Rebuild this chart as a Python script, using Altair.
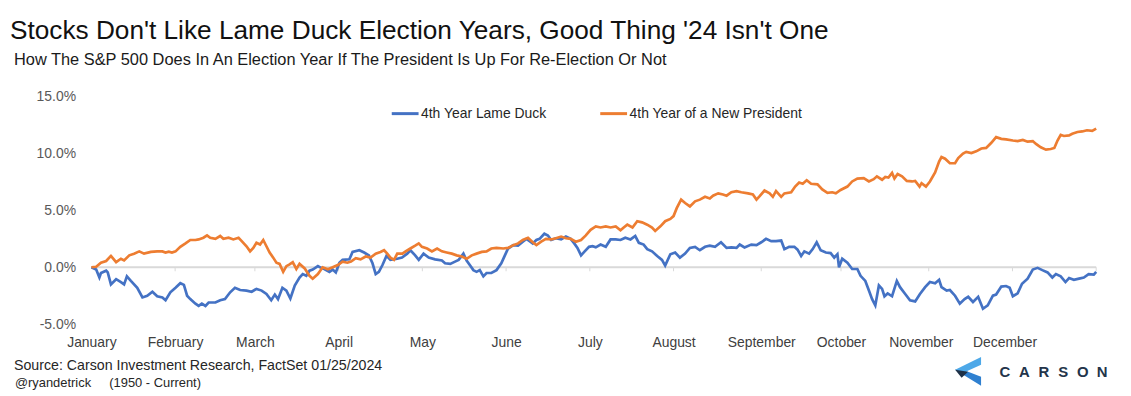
import altair as alt
import pandas as pd

# ---------------- data ----------------
series_names = ["4th Year Lame Duck", "4th Year of a New President"]
series_colors = ["#4472C4", "#ED7D31"]

blue_days = [0, 1.2, 2.0, 2.4, 3.7, 4.1, 4.9, 6.2, 7.4, 8.2, 8.9, 9.9, 11.5, 12.8, 14.0, 15.3, 16.5, 17.8, 18.6, 19.8,
             21.1, 22.3, 23.2, 24.0, 24.8, 26.1, 26.9, 27.7, 28.6, 29.4, 31.1, 32.3, 33.5, 34.8, 36.0, 37.3, 38.9, 40.2,
             41.4, 42.7, 43.9, 45.1, 46.0, 46.8, 47.9, 48.9, 49.9, 51.0, 52.2, 53.0, 53.9, 54.7, 55.5, 56.8, 57.6, 58.4,
             59.7, 60.5, 61.3, 62.2, 63.0, 64.7, 65.5, 67.2, 68.4, 69.6, 70.5, 71.3, 72.1, 73.0, 74.0, 75.0, 76.7, 77.9,
             79.2, 80.0, 81.2, 82.1, 83.3, 84.6, 86.2, 87.9, 88.7, 90.0, 91.2, 92.1, 93.3, 94.1, 94.9, 95.8, 96.6, 97.4,
             98.3, 99.1, 100.3, 101.6, 102.8, 103.7, 104.5, 105.8, 107.0, 108.2, 109.1, 109.9, 110.7, 111.6, 112.4,
             113.6, 114.5, 115.3, 116.5, 117.8, 119.0, 120.2, 121.1, 121.9, 122.8, 123.6, 124.8, 125.7, 126.5, 127.7,
             129.0, 130.2, 131.5, 132.7, 133.9, 135.2, 136.4, 137.3, 138.5, 139.4, 140.6, 141.9, 143.1, 143.9, 145.2,
             146.4, 147.6, 148.9, 150.1, 151.4, 152.6, 153.9, 155.1, 156.4, 157.9, 159.3, 160.5, 161.8, 162.6, 163.8,
             165.5, 166.8, 168.0, 169.2, 170.5, 171.7, 173.0, 173.8, 175.0, 176.3, 177.1, 178.0, 178.8, 180.0, 180.9,
             181.9, 182.9, 184.2, 185.4, 186.3, 187.1, 187.5, 188.3, 189.6, 190.8, 192.1, 192.9, 194.1, 195.0, 195.8,
             196.6, 197.5, 198.3, 198.9, 199.7, 200.8, 202.0, 202.8, 204.1, 205.3, 206.6, 207.8, 209.1, 210.3, 211.6,
             212.6, 213.2, 214.5, 215.3, 216.6, 217.8, 219.0, 219.9, 221.1, 222.4, 223.6, 224.8, 226.1, 226.9, 228.2,
             229.4, 230.3, 231.1, 232.3, 233.4, 234.8, 236.1, 237.3, 238.5, 239.8, 241.0, 241.9, 243.1, 244.3, 245.2,
             246.4, 247.7, 248.9, 250.1, 251.4, 252.0]
blue_vals = [0.0, -0.2, -0.9, -0.5, -0.3, -0.45, -1.5, -1.05, -1.3, -1.5, -0.8, -1.2, -1.8, -2.65, -2.5, -2.15, -2.55,
             -2.65, -2.9, -2.2, -1.8, -1.4, -1.55, -2.5, -2.8, -3.2, -3.4, -3.2, -3.4, -3.1, -3.1, -2.9, -2.8, -2.2,
             -1.8, -2.0, -2.05, -2.15, -1.9, -2.05, -2.35, -2.9, -2.4, -2.8, -1.8, -2.05, -2.75, -1.6, -0.9, -0.6,
             -0.75, -0.3, -0.2, 0.1, -0.05, -0.15, -0.4, -0.2, -0.45, 0.4, 0.65, 0.7, 1.35, 1.5, 1.3, 1.05, 0.35, -0.6,
             -0.4, 0.2, 1.0, 0.65, 0.75, 0.85, 1.2, 1.5, 1.05, 0.65, 1.2, 0.85, 0.7, 0.6, 0.35, 0.3, 0.5, 0.65, 1.2,
             0.6, 0.2, -0.25, -0.4, -0.25, -0.8, -0.5, -0.5, -0.25, 0.35, 1.05, 1.65, 1.95, 1.9, 2.25, 2.5, 2.3, 2.1,
             2.4, 2.5, 2.95, 2.8, 2.4, 2.55, 2.45, 2.7, 2.5, 2.1, 1.7, 1.05, 1.35, 1.8, 1.85, 1.75, 2.0, 1.8, 2.45,
             2.45, 2.4, 2.6, 2.45, 2.75, 2.15, 2.0, 1.6, 1.4, 1.0, 0.65, 0.15, 1.15, 1.3, 0.85, 1.2, 1.7, 1.8, 1.5,
             1.8, 1.9, 1.8, 2.2, 1.7, 1.75, 1.7, 2.0, 1.75, 2.0, 1.95, 2.2, 2.5, 2.3, 2.3, 2.35, 1.6, 1.8, 1.8, 1.55,
             1.0, 1.4, 1.2, 1.6, 2.2, 1.5, 1.3, 1.25, 0.85, 1.15, 0.0, 0.75, 0.4, -0.15, -0.15, -0.75, -1.2, -2.05,
             -2.8, -3.35, -1.6, -1.9, -2.55, -2.3, -2.55, -1.2, -1.75, -2.35, -2.9, -3.0, -2.35, -1.75, -1.3, -1.4,
             -1.1, -1.75, -2.05, -2.0, -2.5, -3.2, -2.8, -2.6, -3.05, -2.6, -3.65, -3.35, -2.5, -2.4, -1.7, -1.65,
             -1.8, -2.55, -2.3, -1.45, -1.0, -0.2, -0.05, -0.25, -0.45, -0.9, -0.6, -0.8, -1.3, -0.95, -1.1, -1.0,
             -0.9, -0.6, -0.65, -0.4]

orange_days = [0, 1.2, 2.4, 3.7, 4.9, 6.2, 7.4, 8.2, 9.5, 10.7, 12.0, 13.2, 14.9, 16.5, 17.8, 18.6, 19.4, 20.2, 21.1,
               22.3, 23.6, 24.8, 26.1, 26.9, 28.1, 29.0, 29.8, 31.1, 32.3, 33.1, 34.4, 35.6, 36.9, 37.7, 38.9, 39.8,
               40.6, 41.4, 42.3, 43.1, 43.9, 44.7, 45.6, 46.4, 47.2, 48.1, 48.9, 49.7, 50.5, 51.4, 52.2, 53.5, 54.7,
               55.5, 56.8, 58.0, 59.3, 60.5, 61.8, 63.0, 64.2, 65.1, 66.3, 67.5, 68.8, 70.0, 71.3, 72.5, 73.4, 74.2,
               75.0, 75.9, 76.7, 78.0, 78.8, 80.0, 81.2, 82.1, 82.9, 84.2, 85.4, 86.7, 87.9, 89.1, 90.4, 91.6, 92.9,
               94.1, 95.4, 96.6, 97.9, 99.1, 100.3, 101.6, 103.3, 104.5, 105.8, 107.0, 108.2, 109.5, 110.7, 111.6,
               112.8, 114.0, 115.3, 116.5, 117.8, 119.0, 120.2, 121.5, 122.8, 124.0, 125.2, 126.5, 127.7, 129.0,
               130.2, 131.5, 132.7, 133.5, 134.4, 135.7, 136.9, 138.1, 139.4, 140.6, 141.4, 142.7, 143.9, 145.2,
               146.0, 146.8, 147.9, 148.9, 150.1, 151.4, 152.6, 153.9, 155.1, 155.9, 157.2, 158.4, 159.3, 160.5,
               161.8, 163.0, 164.7, 165.9, 166.8, 167.6, 168.8, 170.1, 170.9, 171.7, 173.0, 173.8, 175.5, 176.5,
               177.5, 178.4, 179.4, 180.5, 182.1, 183.3, 184.6, 185.8, 186.7, 187.9, 189.6, 190.8, 192.1, 193.7,
               195.0, 196.2, 197.0, 198.3, 199.1, 199.9, 200.8, 201.4, 202.2, 203.3, 204.5, 205.8, 206.6, 207.7,
               208.2, 209.3, 210.3, 211.6, 212.6, 213.2, 214.1, 215.3, 216.6, 217.4, 218.6, 219.4, 220.7, 221.9,
               223.2, 224.4, 225.7, 226.9, 228.2, 229.4, 231.1, 232.3, 233.6, 234.8, 236.1, 236.9, 238.1, 239.4,
               240.6, 241.5, 242.3, 243.1, 243.9, 245.2, 246.0, 247.3, 248.5, 249.7, 251.0, 252.0]
orange_vals = [0.0, 0.05, 0.4, 0.55, 1.0, 0.45, 0.75, 0.6, 1.05, 1.2, 1.4, 1.2, 1.35, 1.4, 1.4, 1.3, 1.37, 1.3, 1.4,
               1.8, 2.1, 2.4, 2.4, 2.45, 2.6, 2.8, 2.6, 2.5, 2.75, 2.5, 2.6, 2.45, 2.6, 2.3, 1.85, 1.4, 1.7, 2.15,
               2.0, 2.4, 1.85, 1.3, 0.85, 0.4, 0.3, -0.4, 0.1, 0.25, 0.45, -0.15, 0.3, -0.1, -0.75, -1.0, -0.6, 0.0,
               -0.17, 0.0, 0.2, 0.5, 0.4, 0.5, 0.8, 0.7, 0.95, 0.85, 1.2, 1.35, 1.5, 1.2, 0.85, 0.65, 1.2, 1.2, 1.4,
               1.65, 1.9, 2.1, 1.8, 1.65, 1.4, 1.65, 1.4, 1.3, 1.2, 1.05, 0.95, 0.75, 1.05, 1.2, 1.35, 1.4, 1.65, 1.7,
               1.65, 1.7, 1.95, 2.1, 2.4, 2.6, 2.2, 1.95, 2.25, 2.5, 2.45, 2.55, 2.7, 2.55, 2.5, 2.25, 2.4, 2.8, 3.3,
               3.6, 3.5, 3.6, 3.5, 3.6, 3.25, 3.5, 3.75, 3.5, 4.05, 3.95, 3.75, 3.5, 3.2, 3.6, 4.05, 4.25, 4.5, 5.2,
               5.95, 5.65, 5.35, 5.8, 5.95, 6.2, 6.05, 6.3, 6.5, 6.4, 6.3, 6.6, 6.7, 6.6, 6.5, 6.4, 5.95, 6.25, 6.75,
               6.5, 6.2, 6.7, 6.2, 6.5, 6.6, 7.1, 7.45, 7.35, 7.65, 7.35, 7.3, 6.85, 6.55, 6.6, 6.5, 6.8, 7.1, 7.55,
               7.8, 7.85, 7.55, 7.75, 8.0, 7.7, 7.95, 7.9, 8.3, 7.8, 8.2, 8.0, 7.6, 7.55, 7.6, 7.1, 7.4, 7.1, 7.55,
               8.35, 9.3, 9.7, 9.55, 9.15, 9.15, 9.6, 10.0, 10.15, 10.05, 10.2, 10.45, 10.5, 10.95, 11.45, 11.3,
               11.25, 11.15, 11.1, 11.2, 11.05, 11.1, 10.85, 10.55, 10.35, 10.4, 10.5, 11.15, 11.65, 11.55, 11.6,
               11.75, 11.9, 11.95, 12.05, 12.0, 12.2]

month_names = ["January", "February", "March", "April", "May", "June", "July", "August",
               "September", "October", "November", "December"]
month_label_days = [0, 21, 41, 62, 83, 104, 125, 146, 168, 188, 208, 229]
month_tick_days = [21, 41, 62, 83, 104, 125, 146, 168, 188, 210, 231, 252]
y_ticks = [-5, 0, 5, 10, 15]
zero_span = [0, 252]

title_text = "Stocks Don't Like Lame Duck Election Years, Good Thing '24 Isn't One"
subtitle_text = "How The S&P 500 Does In An Election Year If The President Is Up For Re-Election Or Not"
source_text = "Source: Carson Investment Research, FactSet 01/25/2024"
handle_text = "@ryandetrick"
period_text = "(1950 - Current)"
logo_letters = ["C", "A", "R", "S", "O", "N"]

# ---------------- build tables ----------------
lines_df = pd.concat([
    pd.DataFrame({"day": blue_days, "value": blue_vals, "series": series_names[0]}),
    pd.DataFrame({"day": orange_days, "value": orange_vals, "series": series_names[1]}),
], ignore_index=True)
ticks_df = pd.DataFrame({"day": month_tick_days, "value": 0.0, "bottom": -0.35})
zero_df = pd.DataFrame({"day": zero_span, "value": [0.0, 0.0]})

FONT = "Liberation Sans"
label_expr = ""
for d, m in zip(month_label_days, month_names):
    label_expr += f"datum.value == {d} ? '{m}' : "
label_expr += "''"

x_scale = alt.Scale(domain=[0, 252], nice=False, zero=False)
y_scale = alt.Scale(domain=[-5, 15], nice=False, zero=False)

x_axis = alt.Axis(values=month_label_days, labelExpr=label_expr, title=None,
                  domain=False, grid=False, ticks=False, tickSize=0,
                  labelPadding=12, labelFontSize=14, labelFont=FONT,
                  labelColor="#404040", labelFlush=False, labelOverlap=False,
                  labelBound=False)
y_axis = alt.Axis(values=y_ticks, labelExpr="datum.value + '.0%'",
                  title=None, domain=False, grid=False, ticks=False, tickSize=0,
                  labelPadding=16, labelFontSize=14, labelFont=FONT,
                  labelColor="#595959")

X = alt.X("day:Q", scale=x_scale, axis=x_axis)
Y = alt.Y("value:Q", scale=y_scale, axis=y_axis)

zero_line = alt.Chart(zero_df).mark_line(color="#d9d9d9", strokeWidth=2).encode(x=X, y=Y)

tick_marks = alt.Chart(ticks_df).mark_rule(color="#d9d9d9", strokeWidth=1).encode(
    x=X, y=Y, y2="bottom:Q",
)

lines = alt.Chart(lines_df).mark_line(strokeWidth=2.7).encode(
    x=X, y=Y,
    color=alt.Color("series:N",
                    scale=alt.Scale(domain=series_names, range=series_colors),
                    legend=alt.Legend(title=None, orient="none", legendX=301, legendY=2,
                                      direction="horizontal", symbolType="stroke",
                                      symbolSize=729, symbolStrokeWidth=3,
                                      labelOffset=1, columnPadding=47, labelLimit=400,
                                      labelFontSize=14, labelFont=FONT,
                                      labelColor="#262626")),
)


def txt(text, x, y, size, color="#262626", weight="normal", align="left"):
    return alt.Chart(pd.DataFrame({"t": [text]})).mark_text(
        align=align, baseline="alphabetic", fontSize=size, font=FONT,
        color=color, fontWeight=weight
    ).encode(text="t:N", x=alt.value(x), y=alt.value(y))


title = txt(title_text, -82, -58, 26.4, color="#111111")
subtitle = txt(subtitle_text, -78, -31.5, 16.5, color="#1a1a1a")
source = txt(source_text, -78, 275, 14.3)
handle = txt(handle_text, -77, 292, 13)
period = txt(period_text, 18, 292, 13)
logo_word = [txt(ch, 920 + i * 19.6, 282, 15, color="#23344A", weight="bold", align="center")
             for i, ch in enumerate(logo_letters)]


def logo_part(path, color):
    return alt.Chart(pd.DataFrame({"k": [0]})).mark_point(
        shape=path, filled=True, size=841, opacity=1, color=color
    ).encode(x=alt.value(883), y=alt.value(276.5))


logo_bot = logo_part("M -0.9 -0.1 L 0 0.03 L 0.9 0.38 L 0.9 1 Z", "#2F80D0")
logo_top = logo_part("M 0.9 -1 L 0.9 -0.45 L -0.48 0.17 L -0.9 -0.1 Z", "#4DA8E8")
logo_mid = logo_part("M -0.9 -0.1 L 0 0.03 L -0.45 0.45 Z", "#1E3147")

chart = alt.layer(
    zero_line, tick_marks, lines, title, subtitle, source, handle, period,
    logo_bot, logo_top, logo_mid, *logo_word
).properties(
    width=1012, height=229,
    padding={"left": 84, "top": 88, "right": 27, "bottom": 71},
    autosize=alt.AutoSizeParams(type="none"),
    background="white",
).configure_view(stroke=None)

chart.save("out.html", embed_options={"renderer": "svg", "actions": False})
